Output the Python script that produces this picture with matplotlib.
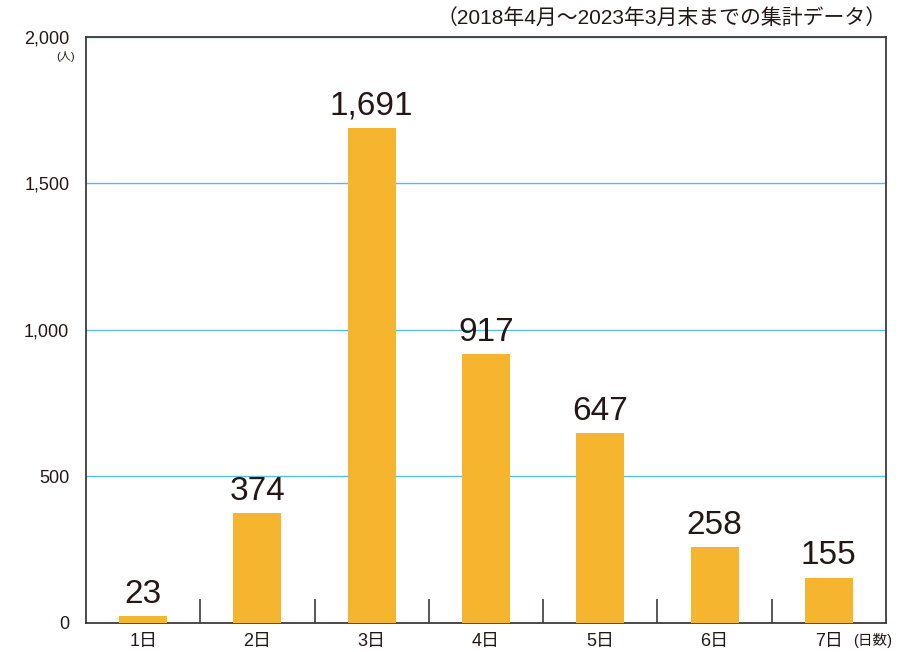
import numpy as np
import matplotlib
matplotlib.use('Agg')
import matplotlib.pyplot as plt

plt.rcParams['font.family'] = ['Liberation Sans', 'Noto Sans CJK JP', 'DejaVu Sans']

categories = ['1日', '2日', '3日', '4日', '5日', '6日', '7日']
values = [23, 374, 1691, 917, 647, 258, 155]
yticks = [0, 500, 1000, 1500, 2000]
ylabels = ['0', '500', '1,000', '1,500', '2,000']

fig = plt.figure(figsize=(8.99, 6.52), dpi=100)
ax = fig.add_axes([0.0957, 0.0445, 0.8898, 0.8988])

x = np.arange(len(categories))
ax.bar(x, values, width=0.42, color='#f6b52e', zorder=3)
for xi, v in zip(x, values):
    ax.text(xi, v + 22, f'{v:,}', ha='center', va='bottom', fontsize=24, color='#231815')

ax.set_xlim(-0.5, len(categories) - 0.5)
ax.set_ylim(0, 2000)
ax.set_yticks(yticks)
ax.set_yticklabels(ylabels, fontsize=13, color='#231815')
ax.tick_params(axis='y', length=0, pad=12)
ax.grid(axis='y', color='#5bbde0', linewidth=1, zorder=1)

ax.set_xticks(x)
ax.set_xticklabels(categories, fontsize=13, color='#231815')
ax.tick_params(axis='x', length=0, pad=7)
# inward ticks at category boundaries
ax.set_xticks(np.arange(0.5, len(categories) - 1, 1), minor=True)
ax.tick_params(axis='x', which='minor', direction='in', length=17, width=1.2, color='#3e3a39')

for s in ax.spines.values():
    s.set_color('#3e3a39')
    s.set_linewidth(1.3)

fig.text(0.083, 0.913, '(人)', fontsize=8, ha='right', va='center', color='#231815')
fig.text(0.949, 0.018, '(日数)', fontsize=10.5, ha='left', va='center', color='#231815')
fig.text(0.986, 0.972, '（2018年4月～2023年3月末までの集計データ）', fontsize=15,
         ha='right', va='center', color='#231815')

fig.savefig('out.png', dpi=100)
